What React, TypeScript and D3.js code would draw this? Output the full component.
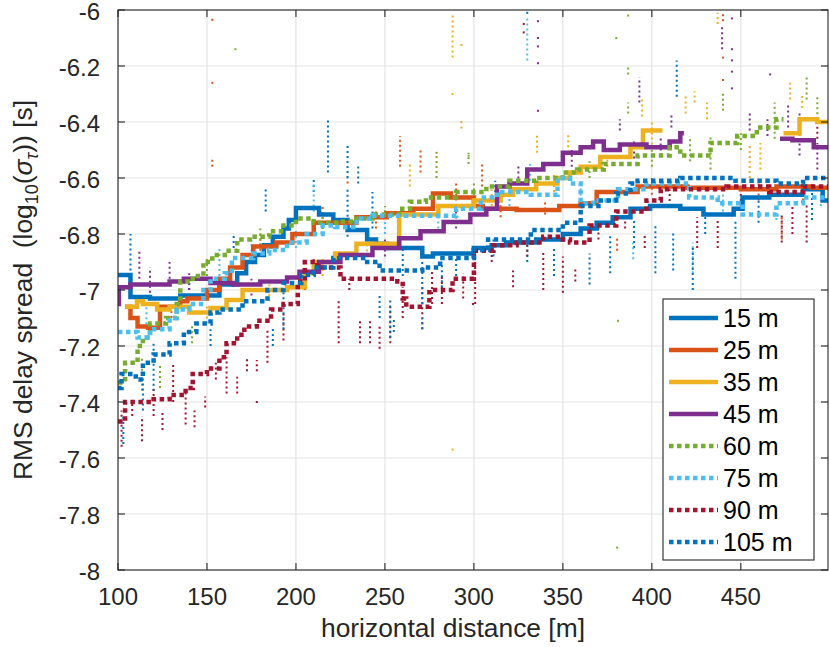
import React from "react";
import * as d3 from "d3";

type Pt = [number, number | null];
type Col = [number, number, number];
type Dot = [number, number];

// step curves (x where the step starts, value); null = no data
const s15: Pt[] = [[100,-6.946],[107,-7.025],[118,-7.03],[135,-7.02],[157,-6.98],[167,-6.94],[172,-6.9],[177,-6.875],[182,-6.84],[187,-6.81],[193,-6.78],[196,-6.75],[200,-6.707],[213,-6.73],[221,-6.75],[229,-6.786],[240,-6.82],[245,-6.835],[251,-6.85],[271,-6.88],[277,-6.87],[300,-6.85],[310,-6.84],[318,-6.83],[335,-6.82],[350,-6.8],[360,-6.78],[369,-6.76],[378,-6.74],[388,-6.71],[399,-6.7],[416,-6.71],[429,-6.73],[446,-6.71],[451,-6.67],[466,-6.66],[485,-6.64],[496,-6.68],[499,-6.68]];
const s25: Pt[] = [[104,-7.06],[107,-7.1],[111,-7.13],[117,-7.135],[123.6,-7.06],[135,-7.04],[139,-7.03],[150,-7.0],[157,-6.96],[163,-6.92],[170,-6.875],[176,-6.845],[189,-6.83],[198,-6.8],[210,-6.76],[234,-6.74],[251,-6.726],[266,-6.71],[277,-6.655],[287,-6.67],[300,-6.7],[305,-6.71],[324,-6.714],[348,-6.7],[360,-6.69],[369,-6.65],[392,-6.63],[420,-6.635],[450,-6.64],[470,-6.63],[490,-6.635],[499,-6.635]];
const s35: Pt[] = [[104,-7.06],[110.7,-7.04],[114,-7.05],[122,-7.07],[129,-7.06],[140,-7.08],[152,-7.064],[161,-7.036],[170,-7.0],[195,-6.99],[205,-6.94],[210,-6.9],[222,-6.87],[234,-6.835],[258,-6.73],[280,-6.7],[300,-6.68],[315,-6.66],[322,-6.64],[335,-6.62],[347,-6.6],[354,-6.58],[360,-6.56],[371,-6.525],[388,-6.49],[395,-6.43],[406,-6.43],[406,null],[474,-6.44],[483,-6.39],[493,-6.4],[499,-6.4]];
const s45: Pt[] = [[100,-7.05],[100.5,-6.99],[107,-6.98],[129,-6.97],[137,-6.96],[152,-6.975],[165,-6.98],[180,-6.97],[195,-6.955],[202,-6.935],[213,-6.9],[225,-6.875],[243,-6.85],[258,-6.815],[270,-6.79],[283,-6.757],[298,-6.73],[307,-6.71],[313,-6.63],[320,-6.62],[330,-6.57],[339,-6.55],[350,-6.51],[360,-6.49],[367,-6.47],[373,-6.5],[382,-6.48],[397,-6.49],[410,-6.47],[416,-6.44],[418,-6.44],[418,null],[472,-6.46],[479,-6.465],[491,-6.49],[499,-6.49]];
const s60: Pt[] = [[100,-7.33],[104,-7.26],[111,-7.2],[114,-7.17],[118,-7.12],[127,-7.1],[133,-7.05],[135,-6.97],[142,-6.95],[148,-6.9],[153,-6.875],[160,-6.86],[167,-6.82],[174,-6.81],[185,-6.79],[193,-6.77],[200,-6.745],[210,-6.76],[225,-6.755],[234,-6.745],[243,-6.73],[258,-6.71],[264,-6.685],[273,-6.67],[290,-6.65],[307,-6.63],[320,-6.61],[335,-6.6],[350,-6.58],[358,-6.57],[373,-6.55],[392,-6.52],[410,-6.49],[416,-6.52],[433,-6.475],[448,-6.45],[459,-6.42],[470,-6.39],[474,-6.39]];
const s75: Pt[] = [[100,-7.15],[104,-7.15],[111,-7.17],[118,-7.14],[129,-7.1],[133,-7.07],[140,-7.05],[148,-7.0],[152,-6.96],[160,-6.94],[164,-6.886],[176,-6.87],[185,-6.857],[195,-6.83],[206,-6.8],[215,-6.77],[222,-6.775],[234,-6.745],[243,-6.735],[290,-6.71],[304,-6.67],[313,-6.65],[332,-6.66],[347,-6.6],[354,-6.62],[360,-6.69],[367,-6.68],[381,-6.64],[397,-6.62],[421,-6.67],[437,-6.69],[451,-6.73],[470,-6.69],[485,-6.67],[499,-6.67]];
const s90: Pt[] = [[100,-7.47],[104,-7.4],[120,-7.39],[129,-7.375],[138,-7.35],[142,-7.3],[150,-7.28],[157,-7.24],[161,-7.19],[167,-7.16],[171,-7.13],[178,-7.11],[186,-7.07],[193,-7.05],[201,-6.97],[205,-6.9],[212,-6.92],[225,-6.96],[257,-6.97],[260,-7.03],[262,-7.06],[275,-7.0],[288,-6.96],[300,-6.86],[311,-6.84],[324,-6.83],[339,-6.81],[350,-6.82],[354,-6.83],[365,-6.77],[380,-6.72],[397,-6.68],[405,-6.64],[442,-6.63],[466,-6.65],[485,-6.63],[499,-6.63]];
const s105: Pt[] = [[100,-7.35],[102,-7.3],[110,-7.32],[114,-7.26],[120,-7.23],[129,-7.19],[137,-7.15],[144,-7.12],[152,-7.08],[157,-7.07],[170,-7.04],[184,-7.0],[193,-6.975],[203,-6.946],[210,-6.92],[221,-6.886],[240,-6.9],[247,-6.93],[271,-6.92],[281,-6.886],[300,-6.857],[308,-6.82],[332,-6.786],[350,-6.76],[360,-6.7],[370,-6.68],[380,-6.655],[388,-6.62],[392,-6.61],[416,-6.6],[447,-6.61],[470,-6.62],[485,-6.6],[499,-6.6]];

// raw samples: vertical runs [x, low, high] and single points [x, y]
const runs15: Col[] = [[107,-6.93,-6.8],[140,-7.0,-6.95],[165,-6.85,-6.8],[183,-6.72,-6.64],[210,-6.65,-6.6],[218,-6.58,-6.39],[229,-6.6,-6.48],[229,-6.81,-6.64],[235,-6.62,-6.55],[243,-6.78,-6.65],[260,-6.95,-6.85],[290,-6.95,-6.88],[312,-6.65,-6.61],[330,-6.9,-6.84],[345,-6.95,-6.85],[390,-6.85,-6.75],[414,-6.31,-6.18],[430,-6.8,-6.72],[460,-6.76,-6.68],[490,-6.75,-6.64]];
const runs25: Col[] = [[130,-7.1,-7.05],[153,-6.56,-6.53],[180,-6.86,-6.8],[215,-6.8,-6.7],[229,-6.62,-6.6],[245,-6.78,-6.72],[258.5,-6.56,-6.45],[270,-6.58,-6.5],[290,-6.68,-6.62],[304.6,-6.63,-6.55],[315,-6.74,-6.69],[340,-6.73,-6.68],[380.5,-6.86,-6.81],[400,-6.66,-6.6],[440,-6.04,-6.01],[460,-6.68,-6.62],[473,-6.82,-6.73],[485,-6.68,-6.62]];
const runs35: Col[] = [[150,-7.12,-7.06],[185,-7.04,-6.98],[215,-6.95,-6.88],[240,-6.88,-6.82],[264,-6.63,-6.55],[288,-6.17,-6.02],[310,-6.7,-6.64],[335.5,-6.51,-6.44],[345,-6.65,-6.58],[353,-6.49,-6.44],[375,-6.56,-6.5],[394.5,-6.38,-6.32],[400,-6.48,-6.4],[419,-6.37,-6.3],[424,-6.33,-6.29],[431,-6.39,-6.33],[437,-6.05,-6.01],[455,-6.6,-6.475],[461,-6.57,-6.475],[477.7,-6.32,-6.26],[484.5,-6.35,-6.3]];
const runs45: Col[] = [[112,-6.96,-6.86],[118,-7.01,-6.92],[129,-6.96,-6.9],[140,-7.0,-6.94],[175,-7.02,-6.96],[210,-6.95,-6.88],[250,-6.88,-6.82],[290,-6.78,-6.72],[325,-6.62,-6.55],[355,-6.56,-6.5],[382,-6.43,-6.39],[390,-6.53,-6.46],[393,-6.33,-6.24],[405,-6.52,-6.45],[411,-6.42,-6.37],[439.5,-6.14,-6.06],[455,-6.43,-6.36],[465,-6.45,-6.39],[476.6,-6.42,-6.33],[483,-6.52,-6.37],[493,-6.57,-6.475]];
const runs60: Col[] = [[113.5,-7.36,-7.24],[123.6,-7.35,-7.27],[141.6,-7.19,-7.12],[150,-6.95,-6.88],[180,-6.84,-6.78],[215,-6.8,-6.74],[250,-6.74,-6.7],[279,-6.6,-6.51],[297,-6.55,-6.51],[300,-6.68,-6.62],[330,-6.64,-6.58],[365,-6.6,-6.54],[386.7,-6.23,-6.2],[386.7,-6.37,-6.33],[400,-6.56,-6.5],[421.5,-6.54,-6.45],[433,-6.57,-6.45],[440,-6.36,-6.29],[450,-6.5,-6.44],[469,-6.46,-6.33],[487,-6.32,-6.24],[493,-6.39,-6.31]];
const runs75: Col[] = [[116,-7.14,-7.05],[157,-6.95,-6.85],[175,-6.88,-6.82],[200,-6.85,-6.78],[210,-6.72,-6.62],[250,-6.8,-6.72],[280,-6.78,-6.7],[320,-6.7,-6.62],[330,-6.18,-6.03],[331.6,-6.61,-6.55],[360,-6.68,-6.62],[389.5,-6.89,-6.83],[423,-6.94,-6.83],[440,-6.72,-6.66],[470,-6.75,-6.7],[495,-6.7,-6.64]];
const runs90: Col[] = [[102,-7.56,-7.43],[108,-7.45,-7.4],[113.5,-7.54,-7.45],[120,-7.45,-7.35],[125,-7.5,-7.43],[131,-7.4,-7.26],[138,-7.48,-7.36],[143,-7.49,-7.43],[149,-7.42,-7.38],[155,-7.32,-7.26],[161,-7.37,-7.24],[167,-7.37,-7.31],[172.5,-7.29,-7.24],[178,-7.29,-7.25],[184,-7.26,-7.14],[193,-7.18,-7.08],[205,-7.0,-6.94],[224,-7.19,-7.04],[230,-7.0,-6.96],[236,-7.19,-7.11],[241.6,-7.19,-7.11],[247,-7.21,-7.13],[253,-7.19,-7.06],[260,-7.1,-6.99],[271,-7.14,-6.99],[276.5,-7.05,-6.93],[282,-7.05,-6.95],[294,-7.03,-6.94],[300.7,-7.05,-6.88],[310,-6.9,-6.84],[322,-6.99,-6.93],[330,-6.88,-6.82],[339,-7.0,-6.86],[350,-7.01,-6.88],[357,-6.97,-6.92],[370,-6.82,-6.76],[385,-6.78,-6.72],[396,-6.85,-6.8],[410,-6.7,-6.64],[425.5,-6.85,-6.74],[437,-6.85,-6.75],[450,-6.7,-6.64],[473,-6.83,-6.73],[479,-6.8,-6.7],[487,-6.83,-6.69],[493,-6.46,-6.39]];
const runs105: Col[] = [[103,-7.55,-7.45],[114,-7.43,-7.29],[120,-7.36,-7.19],[152,-7.2,-7.14],[187,-7.2,-7.13],[193,-7.14,-7.0],[247,-7.1,-7.02],[253,-7.17,-7.03],[255,-7.15,-7.1],[271,-7.05,-6.9],[271,-7.14,-7.1],[282,-6.99,-6.9],[311,-6.88,-6.82],[365,-6.98,-6.87],[376.6,-6.94,-6.8],[402,-6.94,-6.77],[412,-6.93,-6.79],[423,-7.0,-6.85],[447,-6.96,-6.75]];

const pts25: Dot[] = [[153,-6.035],[153,-6.26],[440,-6.17],[440,-6.25]];
const pts35: Dot[] = [[288,-6.3],[293,-6.125],[293,-6.4],[293,-6.42],[288,-7.57]];
const pts45: Dot[] = [[336,-6.04],[336,-6.1],[336,-6.13],[336,-6.19],[336,-6.36],[445,-6.03],[445,-6.14],[445,-6.18],[445,-6.22],[445,-6.28],[466.5,-6.23]];
const pts60: Dot[] = [[166,-6.14],[386.7,-6.02],[380,-6.1],[380.5,-7.92],[381,-7.11],[279,-6.51],[297,-6.52]];
const pts90: Dot[] = [[178,-7.4],[328,-6.05],[328,-6.08],[299.5,-7.05]];
const pts105: Dot[] = [[330,-6.01]];

const legendLabels = ["15 m", "25 m", "35 m", "45 m", "60 m", "75 m", "90 m", "105 m"];
const xTicks = [100, 150, 200, 250, 300, 350, 400, 450];
const yTicks = [-8, -7.8, -7.6, -7.4, -7.2, -7, -6.8, -6.6, -6.4, -6.2, -6];

const curves = [s15, s25, s35, s45, s60, s75, s90, s105];
const runs = [runs15, runs25, runs35, runs45, runs60, runs75, runs90, runs105];
const singles: Dot[][] = [[], pts25, pts35, pts45, pts60, [], pts90, pts105];

const colors = ["#0072BD", "#D95319", "#EDB120", "#7E2F8E", "#77AC30", "#4DBEEE", "#A2142F", "#0072BD"];
const isDotted = [false, false, false, false, true, true, true, true];

const W = 830, H = 647;
const m = { left: 118, right: 828, top: 10, bottom: 570 };
const FONT = "'Liberation Sans', Arial, Helvetica, sans-serif";
const INK = "#262626";

export default function App() {
  const x = d3.scaleLinear().domain([100, 499]).range([m.left, m.right]);
  const y = d3.scaleLinear().domain([-8, -6]).range([m.bottom, m.top]);

  const line = d3
    .line<Pt>()
    .defined((d) => d[1] !== null)
    .x((d) => x(d[0]))
    .y((d) => y(d[1] as number))
    .curve(d3.curveStepAfter);

  const dash = "4.5 3.5";

  return (
    <svg width={W} height={H} style={{ position: "absolute", left: 0, top: 0, background: "#fff" }} fontFamily={FONT}>
      <defs>
        <clipPath id="plotArea">
          <rect x={m.left} y={m.top} width={m.right - m.left} height={m.bottom - m.top} />
        </clipPath>
      </defs>
      <rect x={0} y={0} width={W} height={H} fill="#fff" />

      {/* grid */}
      <g stroke="#e3e3e3" strokeWidth={1.2}>
        {xTicks.map((t) => (
          <line key={"gx" + t} x1={x(t)} x2={x(t)} y1={m.top} y2={m.bottom} />
        ))}
        {yTicks.map((t) => (
          <line key={"gy" + t} x1={m.left} x2={m.right} y1={y(t)} y2={y(t)} />
        ))}
      </g>

      <g clipPath="url(#plotArea)">
        {/* raw samples */}
        {runs.map((rs, i) =>
          rs.map((r, j) => (
            <line
              key={"r" + i + "-" + j}
              x1={x(r[0])}
              x2={x(r[0])}
              y1={y(r[1])}
              y2={y(r[2])}
              stroke={colors[i]}
              strokeWidth={2}
              strokeDasharray="2 3"
            />
          ))
        )}
        {singles.map((ps, i) =>
          ps.map((p, j) => (
            <rect key={"p" + i + "-" + j} x={x(p[0]) - 1} y={y(p[1]) - 1} width={2} height={2} fill={colors[i]} />
          ))
        )}
        {/* step curves */}
        {curves.map((c, i) => (
          <path
            key={"c" + i}
            d={line(c) || ""}
            fill="none"
            stroke={colors[i]}
            strokeWidth={4.5}
            strokeDasharray={isDotted[i] ? dash : undefined}
            strokeLinejoin="miter"
          />
        ))}
      </g>

      {/* axes box and ticks */}
      <rect x={m.left} y={m.top} width={m.right - m.left} height={m.bottom - m.top} fill="none" stroke={INK} strokeWidth={1.1} />
      <g stroke={INK} strokeWidth={1.1}>
        {xTicks.map((t) => (
          <g key={"tx" + t}>
            <line x1={x(t)} x2={x(t)} y1={m.bottom} y2={m.bottom - 7} />
            <line x1={x(t)} x2={x(t)} y1={m.top} y2={m.top + 7} />
          </g>
        ))}
        {yTicks.map((t) => (
          <g key={"ty" + t}>
            <line x1={m.left} x2={m.left + 7} y1={y(t)} y2={y(t)} />
            <line x1={m.right} x2={m.right - 7} y1={y(t)} y2={y(t)} />
          </g>
        ))}
      </g>
      <g fill={INK} fontSize={24}>
        {xTicks.map((t) => (
          <text key={"lx" + t} x={x(t)} y={605} textAnchor="middle">
            {t}
          </text>
        ))}
        {yTicks.map((t) => (
          <text key={"ly" + t} x={100} y={y(t)} dy="0.42em" textAnchor="end">
            {String(t)}
          </text>
        ))}
      </g>

      {/* axis labels */}
      <text x={453} y={637} textAnchor="middle" fontSize={26.4} fill={INK}>
        horizontal distance [m]
      </text>
      <text transform={`translate(32,${(m.top + m.bottom) / 2}) rotate(-90)`} textAnchor="middle" fontSize={26.4} fill={INK}>
        RMS delay spread{"\u00a0\u00a0"}(log
        <tspan fontSize={18} dy="6">10</tspan>
        <tspan dy="-6">(</tspan>
        <tspan fontStyle="italic">σ</tspan>
        <tspan fontSize={18} fontStyle="italic" dy="6">τ</tspan>
        <tspan dy="-6">)) [s]</tspan>
      </text>

      {/* legend */}
      <g>
        <rect x={663} y={299} width={151} height={261} fill="#fff" stroke={INK} strokeWidth={1.1} />
        {legendLabels.map((lab, i) => {
          const ly = 318 + i * 32;
          return (
            <g key={"lg" + i}>
              <line
                x1={669}
                x2={718}
                y1={ly}
                y2={ly}
                stroke={colors[i]}
                strokeWidth={4.5}
                strokeDasharray={isDotted[i] ? dash : undefined}
              />
              <text x={723} y={ly} dy="0.35em" fontSize={25} fill="#000">
                {lab}
              </text>
            </g>
          );
        })}
      </g>
    </svg>
  );
}
